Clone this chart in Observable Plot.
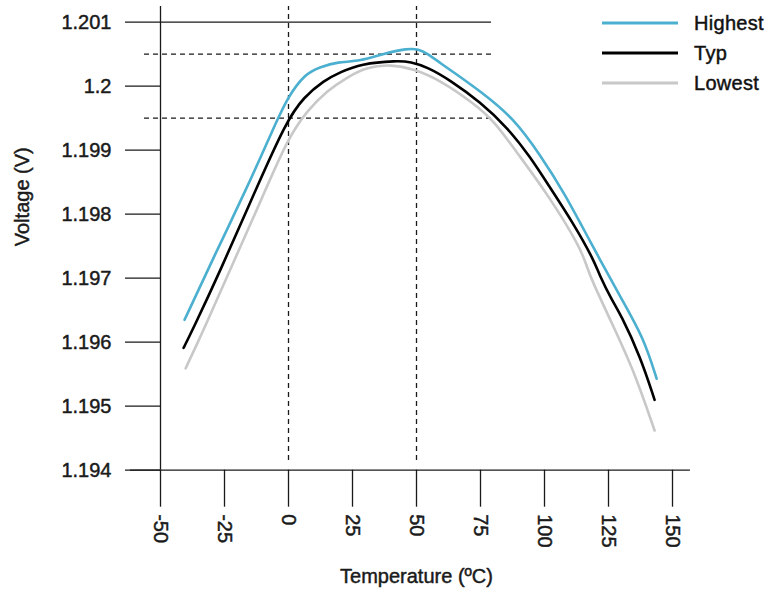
<!DOCTYPE html>
<html>
<head>
<meta charset="utf-8">
<script src="https://cdn.jsdelivr.net/npm/d3@7"></script>
<script src="https://cdn.jsdelivr.net/npm/@observablehq/plot@0.6"></script>
<style>
  html, body { margin: 0; padding: 0; background: #fff; }
  #wrap { position: relative; width: 780px; height: 589px; font-family: "Liberation Sans", Arial, sans-serif; }
  #legend { position: absolute; left: 602px; top: 8px; }
  .item { display: flex; align-items: center; height: 30px; }
  .item span { font-size: 20px; color: #111; margin-left: 16px; -webkit-text-stroke: 0.45px #111; letter-spacing: 0.3px; }
</style>
</head>
<body>
<div id="wrap"><div id="chart"></div><div id="legend"></div></div>
<script>
// ---- data ----
const seriesNames = ["Highest", "Typ", "Lowest"];
const seriesColors = ["#4bafd0", "#000000", "#c8c8c8"];

const tempHighest = [-40.6, -29.2, -16.1, -5.7, -0.3, 6.6, 12.5, 19.0, 28.1, 37.2, 46.4, 50.9, 54.2, 59.4, 63.3, 75.0, 88.0, 98.4, 107.5, 118.0, 130.4, 138.8, 143.8];
const voltHighest = [1.19635, 1.19733, 1.19842, 1.19936, 1.19983, 1.20020, 1.20030, 1.20038, 1.20039, 1.20051, 1.20059, 1.20058, 1.20051, 1.20036, 1.20025, 1.19992, 1.19950, 1.19892, 1.19835, 1.19756, 1.19665, 1.19606, 1.19543];

const tempTyp = [-41.0, -37.6, -26.6, -13.6, -0.8, 6.0, 13.8, 20.3, 28.1, 42.5, 47.7, 54.2, 63.3, 75.0, 85.4, 94.5, 101.1, 111.4, 119.3, 121.2, 126.4, 129.7, 137.5, 143.0];
const voltTyp = [1.19591, 1.19618, 1.19712, 1.19831, 1.19946, 1.19983, 1.20009, 1.20022, 1.20035, 1.20040, 1.20038, 1.20030, 1.20009, 1.19975, 1.19936, 1.19889, 1.19848, 1.19785, 1.19728, 1.19707, 1.19665, 1.19644, 1.19577, 1.19510];

const tempLowest = [-40.2, -33.3, -29.8, -22.7, -9.6, -0.3, 7.3, 15.1, 22.9, 30.7, 39.8, 48.9, 59.4, 72.4, 80.2, 89.3, 101.1, 114.1, 116.6, 118.6, 125.8, 134.9, 143.0];
const voltLowest = [1.19559, 1.19618, 1.19650, 1.19714, 1.19832, 1.19918, 1.19962, 1.19993, 1.20014, 1.20030, 1.20034, 1.20027, 1.20009, 1.19973, 1.19946, 1.19896, 1.19832, 1.19748, 1.19717, 1.19696, 1.19634, 1.19556, 1.19462];

const xTicks = [-50, -25, 0, 25, 50, 75, 100, 125, 150];
const xTickLabels = ["-50", "-25", "0", "25", "50", "75", "100", "125", "150"];
const yTicks = [1.194, 1.195, 1.196, 1.197, 1.198, 1.199, 1.2, 1.201];
const yTickLabels = ["1.194", "1.195", "1.196", "1.197", "1.198", "1.199", "1.2", "1.201"];
const refTemps = [0, 50];          // dashed verticals
const refVolts = [1.2005, 1.1995]; // dashed horizontals
const topGrid = [1.201];

// ---- build ----
const temps = [tempHighest, tempTyp, tempLowest];
const volts = [voltHighest, voltTyp, voltLowest];
const rows = [];
seriesNames.forEach((s, i) => temps[i].forEach((t, j) => rows.push({series: s, t, v: volts[i][j]})));

const ink = "#1a1a1a";
const chart = Plot.plot({
  width: 780,
  height: 589,
  marginLeft: 160,
  marginRight: 108,
  marginTop: 21.7,
  marginBottom: 119.3,
  style: {fontFamily: "Liberation Sans, Arial, sans-serif", fontSize: "20px", color: ink, background: "#fff"},
  x: {domain: [-50, 150]},
  y: {domain: [1.194, 1.201]},
  color: {domain: seriesNames, range: seriesColors},
  marks: [
    // dashed reference lines
    Plot.ruleX(refTemps, {x: d => d, y1: 1.19415, y2: 1.201245, stroke: ink, strokeWidth: 1.3, strokeDasharray: "5,4"}),
    Plot.ruleY(refVolts, {y: d => d, x1: -56.25, x2: 79.3, stroke: ink, strokeWidth: 1.3, strokeDasharray: "5,4"}),
    // top solid gridline
    Plot.ruleY(topGrid, {y: d => d, x1: -50, x2: 79.3, stroke: ink, strokeWidth: 1.3}),
    // axis lines (extended)
    Plot.ruleY([1.194], {x1: -61.7, x2: 157, stroke: ink, strokeWidth: 1.3}),
    Plot.ruleX([-50], {y1: 1.194, y2: 1.201245, stroke: ink, strokeWidth: 1.3}),
    // curves
    Plot.line(rows, {x: "t", y: "v", z: "series", stroke: "series", strokeWidth: 2.6, curve: "basis"}),
    // axes
    Plot.axisY(yTicks, {tickSize: 35, tickPadding: 14, tickFormat: (d, i) => yTickLabels[i], stroke: ink, strokeWidth: 1.3, fill: ink, textStroke: ink, textStrokeWidth: 0.45, fontSize: 20, label: null}),
    Plot.axisX(xTicks, {tickSize: 37, tickPadding: 7, tickFormat: (d, i) => xTickLabels[i], tickRotate: 90, stroke: ink, strokeWidth: 1.3, fill: ink, textStroke: ink, textStrokeWidth: 0.45, fontSize: 20, label: null}),
    // axis titles
    Plot.text(["Temperature (ºC)"], {x: 50, y: 1.194, dy: 106, text: d => d, fontSize: 20, fill: ink, stroke: ink, strokeWidth: 0.45, lineAnchor: "middle"}),
    Plot.text(["Voltage (V)"], {frameAnchor: "left", dx: -138, text: d => d, rotate: -90, fontSize: 20, fill: ink, stroke: ink, strokeWidth: 0.45, lineAnchor: "middle"})
  ]
});
document.getElementById("chart").appendChild(chart);

// legend
const legend = document.getElementById("legend");
seriesNames.forEach((s, i) => {
  const div = document.createElement("div");
  div.className = "item";
  div.innerHTML = `<svg width="76" height="6"><line x1="0" x2="76" y1="3" y2="3" stroke="${seriesColors[i]}" stroke-width="3"/></svg><span>${s}</span>`;
  legend.appendChild(div);
});
</script>
</body>
</html>
